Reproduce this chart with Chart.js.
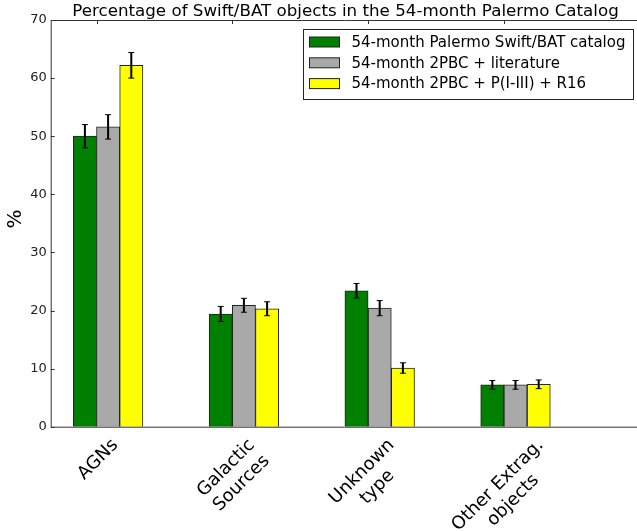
<!DOCTYPE html>
<html>
<head>
<meta charset="utf-8">
<script src="https://cdn.jsdelivr.net/npm/chart.js@4.4.0/dist/chart.umd.min.js"></script>
<style>
  html, body { margin: 0; padding: 0; background: #fff; }
  #wrap { width: 637px; height: 531px; }
</style>
</head>
<body>
<div id="wrap"><canvas id="chart"></canvas></div>
<script>
// categories (multi-line tick labels)
const categories = [['AGNs'], ['Galactic', 'Sources'], ['Unknown', 'type'], ['Other Extrag.', 'objects']];
const seriesNames = ['54-month Palermo Swift/BAT catalog', '54-month 2PBC + literature', '54-month 2PBC + P(I-III) + R16'];
const seriesColors = ['#008000', '#a9a9a9', '#ffff00'];

// values (%)
const palermo = [50.0, 19.4, 23.4, 7.2];
const palermoErr = [2.0, 1.3, 1.25, 0.75];
const literature = [51.6, 20.9, 20.4, 7.2];
const literatureErr = [2.1, 1.2, 1.3, 0.75];
const r16 = [62.2, 20.3, 10.1, 7.3];
const r16Err = [2.2, 1.2, 0.9, 0.75];

const yTicks = [0, 10, 20, 30, 40, 50, 60, 70];

const FONT = 'DejaVu Sans';
const barOffset = 0.1708; // bar step in x units (one group = 1 unit)
const allValues = [palermo, literature, r16];
const allErrs = [palermoErr, literatureErr, r16Err];

const datasets = allValues.map((vals, k) => ({
    label: seriesNames[k],
    data: vals.map((v, i) => ({ x: i + (k - 1) * barOffset, y: v })),
    errs: allErrs[k],
    backgroundColor: seriesColors[k],
    borderColor: '#222222',
    borderWidth: 1,
    borderSkipped: 'bottom',
    barThickness: 23.2,
    grouped: false
}));

const extras = {
    id: 'extras',
    afterDatasetsDraw(chart) {
        const ctx = chart.ctx;
        const xs = chart.scales.x, ys = chart.scales.y;
        const a = chart.chartArea;
        ctx.save();
        // error bars
        chart.data.datasets.forEach(ds => {
            ds.data.forEach((p, i) => {
                const x = xs.getPixelForValue(p.x);
                const yHi = ys.getPixelForValue(p.y + ds.errs[i]);
                const yLo = ys.getPixelForValue(p.y - ds.errs[i]);
                ctx.strokeStyle = '#000';
                ctx.lineWidth = 2;
                ctx.beginPath();
                ctx.moveTo(x, yHi); ctx.lineTo(x, yLo);
                ctx.stroke();
                ctx.lineWidth = 1;
                ctx.beginPath();
                ctx.moveTo(x - 3, yHi); ctx.lineTo(x + 3, yHi);
                ctx.moveTo(x - 3, yLo); ctx.lineTo(x + 3, yLo);
                ctx.stroke();
            });
        });
        // spines
        ctx.strokeStyle = '#333';
        ctx.lineWidth = 1;
        ctx.beginPath();
        ctx.moveTo(a.right + 2, a.top + 0.5);
        ctx.lineTo(a.left + 0.5, a.top + 0.5);
        ctx.lineTo(a.left + 0.5, a.bottom + 0.5);
        ctx.lineTo(a.right + 2, a.bottom + 0.5);
        ctx.stroke();
        // inward ticks
        yTicks.forEach(t => {
            const y = Math.round(ys.getPixelForValue(t)) + 0.5;
            ctx.beginPath();
            ctx.moveTo(a.left, y); ctx.lineTo(a.left + 4, y);
            ctx.stroke();
        });
        categories.forEach((c, i) => {
            const x = Math.round(xs.getPixelForValue(i - barOffset / 2)) + 0.5;
            ctx.beginPath();
            ctx.moveTo(x, a.top); ctx.lineTo(x, a.top + 4);
            ctx.stroke();
        });
        // category labels, rotated 45 deg, centred on the group
        ctx.fillStyle = '#000';
        ctx.font = '18px "' + FONT + '"';
        ctx.textAlign = 'center';
        ctx.textBaseline = 'middle';
        const lineH = 21.6, s = Math.SQRT1_2;
        categories.forEach((lines, i) => {
            const cx = xs.getPixelForValue(i);
            const W = Math.max(...lines.map(l => ctx.measureText(l).width));
            const H = lines.length * lineH;
            ctx.save();
            ctx.translate(cx + s * (W + H) / 2 - s * H - 10, a.bottom + 8);
            ctx.rotate(-Math.PI / 4);
            lines.forEach((l, j) => ctx.fillText(l, -W / 2, lineH * (j + 0.5)));
            ctx.restore();
        });
        // title
        ctx.font = '16.7px "' + FONT + '"';
        ctx.textBaseline = 'alphabetic';
        ctx.fillText('Percentage of Swift/BAT objects in the 54-month Palermo Catalog', 345.5, 16);
        // y axis title
        ctx.save();
        ctx.translate(15.5, 219);
        ctx.rotate(-Math.PI / 2);
        ctx.font = '20px "' + FONT + '"';
        ctx.textBaseline = 'middle';
        ctx.fillText('%', 0, 0);
        ctx.restore();
        // legend
        const lx = 303, ly = 29, lw = 330, lh = 70;
        ctx.fillStyle = '#fff';
        ctx.fillRect(lx, ly, lw, lh);
        ctx.strokeStyle = '#222';
        ctx.strokeRect(lx + 0.5, ly + 0.5, lw, lh);
        ctx.font = '15px "' + FONT + '"';
        ctx.textAlign = 'left';
        ctx.textBaseline = 'middle';
        chart.data.datasets.forEach((ds, k) => {
            const cy = 42 + k * 20.8;
            ctx.fillStyle = ds.backgroundColor;
            ctx.fillRect(309.5, cy - 5, 30, 10);
            ctx.strokeStyle = '#222';
            ctx.strokeRect(309.5, cy - 5, 30, 10);
            ctx.fillStyle = '#000';
            ctx.fillText(ds.label, 351.5, cy + 1);
        });
        ctx.restore();
    }
};

new Chart(document.getElementById('chart'), {
    type: 'bar',
    data: { datasets: datasets },
    options: {
        responsive: true,
        maintainAspectRatio: false,
        animation: false,
        layout: { padding: { top: 20, right: 0, left: 0, bottom: 0 } },
        plugins: { legend: { display: false }, title: { display: false }, tooltip: { enabled: false } },
        scales: {
            x: {
                type: 'linear',
                offset: false,
                min: -0.4227,
                max: 3.8947,
                grid: { display: false, drawTicks: false },
                border: { display: false },
                afterFit: s => { s.height = 104.3; },
                ticks: { display: false }
            },
            y: {
                min: 0,
                max: 70,
                grid: { display: false, drawTicks: false },
                border: { display: false },
                afterBuildTicks: s => { s.ticks = yTicks.map(v => ({ value: v })); },
                afterFit: s => { s.width = 50.7; },
                ticks: {
                    padding: 4,
                    color: '#222',
                    font: { family: FONT, size: 13 }
                }
            }
        }
    },
    plugins: [extras]
});
</script>
</body>
</html>
